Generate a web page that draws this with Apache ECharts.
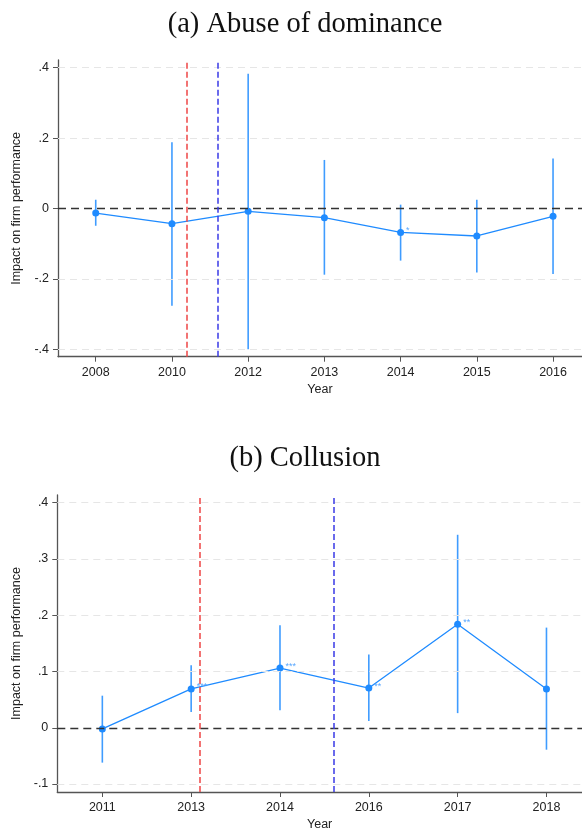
<!DOCTYPE html>
<html>
<head>
<meta charset="utf-8">
<script src="https://cdn.jsdelivr.net/npm/echarts@6/dist/echarts.min.js"></script>
<style>html,body{margin:0;padding:0;background:#fff;}#c{width:582px;height:832px;}</style>
</head>
<body>
<div id="c"></div>
<script>
// ---- Panel (a): Abuse of dominance ----
const yearsA = ['2008', '2010', '2012', '2013', '2014', '2015', '2016'];
const estA = [-0.013, -0.043, -0.008, -0.026, -0.068, -0.078, -0.022];
const loA = [-0.049, -0.276, -0.400, -0.188, -0.148, -0.182, -0.186];
const hiA = [0.025, 0.188, 0.383, 0.138, 0.011, 0.025, 0.142];
const starsA = ['', '', '', '', '*', '', ''];
const eventsA = [1.2, 1.6];           // red, blue event lines (category-index units)
const yTicksA = [-0.4, -0.2, 0, 0.2, 0.4];
const yLabelsA = ['-.4', '-.2', '0', '.2', '.4'];

// ---- Panel (b): Collusion ----
const yearsB = ['2011', '2013', '2014', '2016', '2017', '2018'];
const estB = [-0.002, 0.069, 0.106, 0.0705, 0.184, 0.069];
const loB = [-0.062, 0.028, 0.031, 0.012, 0.026, -0.039];
const hiB = [0.057, 0.111, 0.182, 0.130, 0.343, 0.178];
const starsB = ['', '***', '***', '**', '**', ''];
const eventsB = [1.1, 2.6];
const yTicksB = [-0.1, 0, 0.1, 0.2, 0.3, 0.4];
const yLabelsB = ['-.1', '0', '.1', '.2', '.3', '.4'];

const titles = ['(a) Abuse of dominance', '(b) Collusion'];
const yName = 'Impact on firm performance';
const xName = 'Year';

const BLUE = '#1f8bff';
const BAR = '#3f9cff';
const SANS = 'Liberation Sans, Arial, sans-serif';

function lookup(ticks, labels) {
  return function (v) {
    for (let i = 0; i < ticks.length; i++) if (Math.abs(ticks[i] - v) < 1e-9) return labels[i];
    return '';
  };
}

function xAxisFor(idx, years, min, max) {
  const idxs = years.map((_, i) => i);
  return {
    type: 'value', gridIndex: idx, min: min, max: max,
    name: xName, nameLocation: 'middle', nameGap: 26,
    nameTextStyle: { fontFamily: SANS, fontSize: 12.5, color: '#222' },
    axisLine: { show: true, onZero: false, lineStyle: { color: '#555', width: 1.3 } },
    axisTick: { show: true, length: 5, customValues: idxs, lineStyle: { color: '#555' } },
    axisLabel: { customValues: idxs, margin: 9, fontFamily: SANS, fontSize: 12.5, color: '#222',
      formatter: v => years[Math.round(v)] },
    splitLine: { show: false }
  };
}

function yAxisFor(idx, ticks, labels, min, max) {
  return {
    type: 'value', gridIndex: idx, min: min, max: max,
    name: yName, nameLocation: 'middle', nameGap: 28, nameRotate: 90,
    nameTextStyle: { fontFamily: SANS, fontSize: 12.5, color: '#222' },
    axisLine: { show: true, onZero: false, lineStyle: { color: '#555', width: 1.3 } },
    axisTick: { show: true, length: 5, customValues: ticks, lineStyle: { color: '#555' } },
    axisLabel: { customValues: ticks, margin: 9, fontFamily: SANS, fontSize: 12.5, color: '#222',
      formatter: lookup(ticks, labels) },
    splitLine: { show: false }
  };
}

function panelSeries(idx, years, est, lo, hi, stars, events, ticks) {
  const pts = years.map((_, i) => [i, est[i]]);
  const bars = years.map((_, i) => [i, lo[i], hi[i]]);
  return [
    { // grid lines + zero line
      type: 'line', xAxisIndex: idx, yAxisIndex: idx, data: [], silent: true, z: 1,
      markLine: {
        silent: true, symbol: 'none', label: { show: false }, animation: false,
        data: ticks.filter(t => t !== 0).map(t => ({ yAxis: t, lineStyle: { color: '#e6e6e6', type: [7, 5], width: 1 } }))
          .concat([{ yAxis: 0, lineStyle: { color: '#333', type: [8, 5], width: 1.3 } }])
      }
    },
    { // event lines
      type: 'line', xAxisIndex: idx, yAxisIndex: idx, data: [], silent: true, z: 2,
      markLine: {
        silent: true, symbol: 'none', label: { show: false }, animation: false,
        data: [
          { xAxis: events[0], lineStyle: { color: '#ee4545', type: [6, 3], width: 1.5 } },
          { xAxis: events[1], lineStyle: { color: '#3a3ae6', type: [6, 3], width: 1.5 } }
        ]
      }
    },
    { // confidence intervals
      type: 'custom', xAxisIndex: idx, yAxisIndex: idx, z: 3, data: bars,
      renderItem: function (params, api) {
        const a = api.coord([api.value(0), api.value(1)]);
        const b = api.coord([api.value(0), api.value(2)]);
        return { type: 'line', shape: { x1: a[0], y1: a[1], x2: b[0], y2: b[1] },
          style: { stroke: BAR, lineWidth: 1.6 } };
      }
    },
    { // point estimates
      type: 'line', xAxisIndex: idx, yAxisIndex: idx, z: 4, data: pts,
      symbol: 'circle', symbolSize: 7, animation: false,
      lineStyle: { color: BLUE, width: 1.3 }, itemStyle: { color: BLUE },
      label: { show: true, position: 'right', distance: 2, offset: [0, -2],
        fontSize: 9, color: '#5aa8ff', fontFamily: SANS,
        formatter: p => stars[p.dataIndex] }
    }
  ];
}

const chart = echarts.init(document.getElementById('c'), null, { renderer: 'canvas' });
chart.setOption({
  animation: false,
  backgroundColor: '#fff',
  title: [
    { text: titles[0], left: 300, top: 5, textAlign: 'center',
      textStyle: { fontFamily: 'Liberation Serif, serif', fontWeight: 'normal', fontSize: 28.5, color: '#111' } },
    { text: titles[1], left: 300, top: 439, textAlign: 'center',
      textStyle: { fontFamily: 'Liberation Serif, serif', fontWeight: 'normal', fontSize: 28.5, color: '#111' } }
  ],
  grid: [
    { left: 58, right: 0, top: 60, height: 296.7 },
    { left: 57.3, right: 0, top: 495, height: 297.3 }
  ],
  xAxis: [
    xAxisFor(0, yearsA, -0.495, 6.38),
    xAxisFor(1, yearsB, -0.507, 5.40)
  ],
  yAxis: [
    yAxisFor(0, yTicksA, yLabelsA, -0.421, 0.422),
    yAxisFor(1, yTicksB, yLabelsB, -0.1142, 0.4137)
  ],
  series: [].concat(
    panelSeries(0, yearsA, estA, loA, hiA, starsA, eventsA, yTicksA),
    panelSeries(1, yearsB, estB, loB, hiB, starsB, eventsB, yTicksB)
  )
});
</script>
</body>
</html>
